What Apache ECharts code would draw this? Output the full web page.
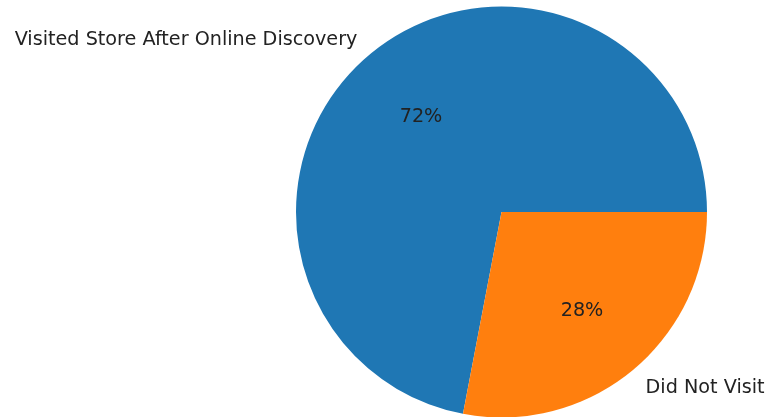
<!DOCTYPE html>
<html>
<head>
<meta charset="utf-8">
<script src="https://cdn.jsdelivr.net/npm/echarts@6/dist/echarts.min.js"></script>
<style>
  html, body { margin: 0; padding: 0; background: #fff; }
  #chart { width: 771px; height: 417px; }
</style>
</head>
<body>
<div id="chart"></div>
<script>
// Store visits following online discovery
const categories = ['Visited Store After Online Discovery', 'Did Not Visit'];
const shares = [72, 28];
const colors = ['#1f77b4', '#ff7f0e'];

const R = 205.5;
const CENTER = [501.5, 212];
const FONT = 'DejaVu Sans';
const FONT_SIZE = 19.2;

const pieData = categories.map((name, i) => ({
  name,
  value: shares[i],
  itemStyle: { color: colors[i] }
}));

const chart = echarts.init(document.getElementById('chart'), null, { renderer: 'canvas' });

chart.setOption({
  animation: false,
  backgroundColor: '#fff',
  series: [
    {
      // wedges with category names anchored at 1.1 R
      type: 'pie',
      center: CENTER,
      radius: [0, R],
      startAngle: 0,
      clockwise: false,
      avoidLabelOverlap: false,
      silent: true,
      data: pieData,
      label: {
        show: true,
        position: 'outside',
        alignTo: 'none',
        bleedMargin: 0,
        distanceToLabelLine: 0,
        formatter: '{b}',
        fontFamily: FONT,
        fontSize: FONT_SIZE,
        color: '#222'
      },
      labelLayout: () => ({ dy: 2 }),
      labelLine: { show: false, length: R * 0.1, length2: 0 },
      itemStyle: { borderWidth: 0 }
    },
    {
      // transparent ring used only to place the percentages at 0.6 R
      type: 'pie',
      center: CENTER,
      radius: [0, R * 1.2],
      startAngle: 0,
      clockwise: false,
      silent: true,
      data: categories.map((name, i) => ({ name, value: shares[i] })),
      itemStyle: { color: 'rgba(0,0,0,0)', borderWidth: 0 },
      label: {
        show: true,
        position: 'inside',
        formatter: p => p.value + '%',
        fontFamily: FONT,
        fontSize: FONT_SIZE,
        color: '#222'
      },
      labelLayout: () => ({ dy: 2 }),
      labelLine: { show: false }
    }
  ]
});
</script>
</body>
</html>
